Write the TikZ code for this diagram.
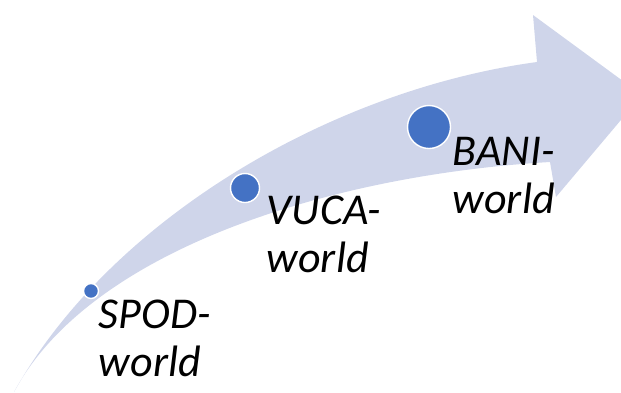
\documentclass[tikz,border=0pt]{standalone}
\usepackage{fontspec}
\setmainfont{Carlito}
\usetikzlibrary{positioning}
\definecolor{bandblue}{HTML}{CFD5EA}
\definecolor{dotblue}{HTML}{4472C4}

\begin{document}
\begin{tikzpicture}[x=1pt, y=-1pt,
    dot/.style={circle, fill=dotblue, draw=white, line width=1.4pt, inner sep=0pt},
    worldlabel/.style={anchor=north west, inner sep=0pt, align=left, font=\fontsize{44}{48}\selectfont\itshape}]

    \useasboundingbox (0,0) rectangle (621,392);
    \clip (0,0) rectangle (621,392);

    % curved arrow
    \fill[bandblue] (14,392) .. controls (110,220) and (330,90) .. (537,62)
      -- (533,15) -- (642,95) -- (556,197) -- (550,162)
      .. controls (330,175) and (90,250) .. (14,392) -- cycle;

    \node (spod) [dot, minimum size=15pt] at (91,291) {};
    \node (vuca) [dot, minimum size=29pt] at (245,188) {};
    \node (bani) [dot, minimum size=43pt] at (429,127) {};

    \node (spodlabel) [worldlabel, below right=3pt and 2pt of spod] {SPOD-\\world};
    \node (vucalabel) [worldlabel, below right=-3.5pt and 11pt of vuca] {VUCA-\\world};
    \node (banilabel) [worldlabel, below right=-5.5pt and 8pt of bani] {BANI-\\world};

\end{tikzpicture}
\end{document}
